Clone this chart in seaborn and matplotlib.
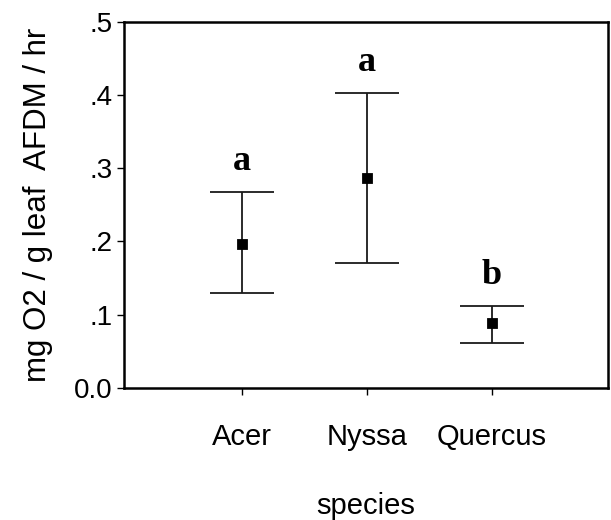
import numpy as np
import pandas as pd
import seaborn as sns
import matplotlib
matplotlib.use("Agg")
import matplotlib.pyplot as plt

species = ["Acer", "Nyssa", "Quercus"]
means = [0.197, 0.287, 0.088]
upper = [0.267, 0.403, 0.112]
lower = [0.129, 0.170, 0.061]
letters = ["a", "a", "b"]
yticks = [0.0, 0.1, 0.2, 0.3, 0.4, 0.5]
yticklabels = ["0.0", ".1", ".2", ".3", ".4", ".5"]

sns.set_style("white")
plt.rcParams["font.family"] = ["Liberation Sans", "DejaVu Sans"]
plt.rcParams["text.color"] = "black"
plt.rcParams["axes.labelcolor"] = "black"
plt.rcParams["xtick.color"] = "black"
plt.rcParams["ytick.color"] = "black"

df = pd.DataFrame({"species": species, "mean": means})

fig = plt.figure(figsize=(6.11, 5.20), dpi=100)
ax = fig.add_axes([0.203, 0.254, 0.792, 0.704])

pos = np.arange(len(species))
m = np.array(means)
err = [m - np.array(lower), np.array(upper) - m]
ax.errorbar(pos, m, yerr=err, fmt="none", ecolor="#1a1a1a", elinewidth=1.3,
            capsize=23, capthick=1.3, zorder=2)

sns.pointplot(data=df, x="species", y="mean", order=species, errorbar=None,
              linestyle="none", marker="s", markersize=6.2, color="black", ax=ax,
              zorder=3)

for i, (u, t) in enumerate(zip(upper, letters)):
    ax.text(i, u + 0.03, t, ha="center", va="baseline", fontsize=26,
            fontweight="bold", color="black",
            family=["Liberation Serif", "DejaVu Serif"])

ax.set_xlim(-0.94, 2.93)
ax.set_ylim(0, 0.5)
ax.set_yticks(yticks)
ax.set_yticklabels(yticklabels, fontsize=20)
ax.set_xticks(pos)
ax.set_xticklabels(species, fontsize=21)
ax.tick_params(axis="both", direction="out", length=5, width=1, color="black",
               labelcolor="black", bottom=True, left=True)
ax.tick_params(axis="x", pad=20)
ax.tick_params(axis="y", pad=3)

ax.set_xlabel("species", fontsize=21, labelpad=30, color="black")
ax.set_ylabel("mg O2 / g leaf  AFDM / hr", fontsize=22.5, labelpad=15, color="black")

for s in ax.spines.values():
    s.set_visible(True)
    s.set_color("black")
    s.set_linewidth(1.8)

fig.savefig("out.png", dpi=100)
